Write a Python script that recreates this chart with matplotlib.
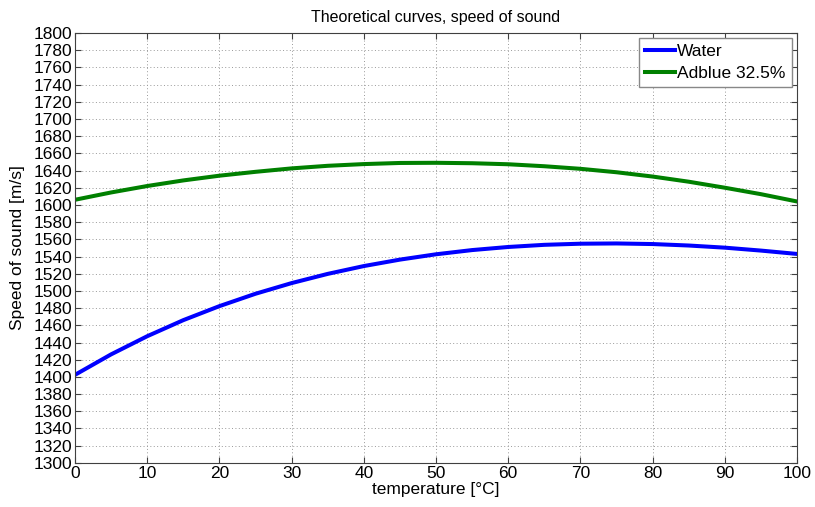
import matplotlib
matplotlib.use("Agg")
import matplotlib.pyplot as plt

plt.rcParams['font.family'] = ['Liberation Sans', 'DejaVu Sans']

temperature = [0, 5, 10, 15, 20, 25, 30, 35, 40, 45, 50, 55, 60, 65, 70, 75, 80, 85, 90, 95, 100]
water = [1402.4, 1426.2, 1447.3, 1466.0, 1482.3, 1496.7, 1509.1, 1519.8, 1528.9, 1536.4, 1542.6,
         1547.5, 1551.1, 1553.6, 1554.9, 1555.2, 1554.5, 1552.8, 1550.3, 1546.9, 1543.0]
adblue = [1606, 1614.5, 1622, 1628.5, 1634, 1638.5, 1642.5, 1645.5, 1647.5, 1648.8, 1649,
          1648.5, 1647.3, 1645, 1642, 1638, 1633, 1627, 1620, 1612.5, 1604]
labels = ["Water", "Adblue 32.5%"]
xticks = list(range(0, 101, 10))
yticks = list(range(1300, 1801, 20))

fig = plt.figure(figsize=(8.15, 5.07), dpi=100)
ax = fig.add_axes([0.092, 0.087, 0.886, 0.848])
ax.plot(temperature, water, color='#0000ff', lw=2.9, label=labels[0])
ax.plot(temperature, adblue, color='#008000', lw=2.9, label=labels[1])
ax.set_xlim(0, 100)
ax.set_ylim(1300, 1800)
ax.set_xticks(xticks)
ax.set_yticks(yticks)
ax.grid(True, linestyle=(0, (1, 2.5)), color='#999999', linewidth=0.7)
ax.tick_params(direction='in', top=True, right=True, labelsize=12.5, length=4, color='#404040', pad=2)
for s in ax.spines.values():
    s.set_color('#404040')
ax.set_xlabel('temperature [°C]', fontsize=12.5, labelpad=1)
ax.set_ylabel('Speed of sound [m/s]', fontsize=12.5, labelpad=6)
ax.set_title('Theoretical curves, speed of sound', fontsize=11.5, pad=8)
leg = ax.legend(loc='upper right', fontsize=12.5, fancybox=False, framealpha=1,
                edgecolor='#888888', handlelength=1.7, handletextpad=0.15,
                borderaxespad=0.3, borderpad=0.35, labelspacing=0.35)
leg.get_frame().set_linewidth(1.0)
fig.savefig('out.png', dpi=100)
